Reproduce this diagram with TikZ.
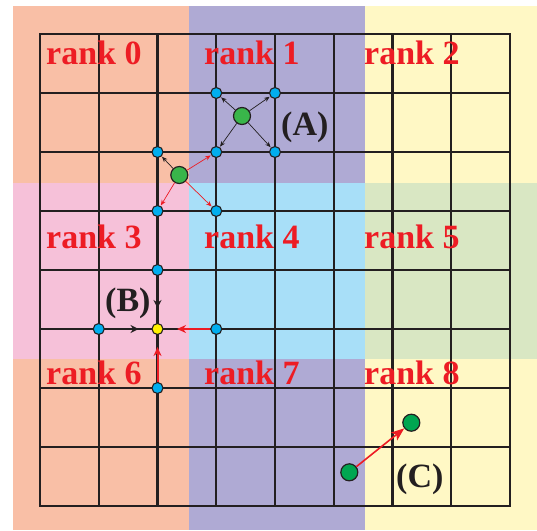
\documentclass[tikz,border=0pt]{standalone}
\usepackage{fontspec}
\setmainfont{Liberation Serif}
\usetikzlibrary{arrows.meta}
\definecolor{csalmon}{HTML}{F9BFA6}
\definecolor{clav}{HTML}{AFAAD4}
\definecolor{cyel}{HTML}{FFF8C5}
\definecolor{cpink}{HTML}{F6C1D9}
\definecolor{clblue}{HTML}{A8DFF8}
\definecolor{clgreen}{HTML}{D9E7C3}
\definecolor{cred}{HTML}{ED1C24}
\definecolor{cblk}{HTML}{231F20}
\definecolor{cdot}{HTML}{00AEEF}
\definecolor{cgreen}{HTML}{39B54A}
\definecolor{cgreenC}{HTML}{00A651}
\definecolor{cyellow}{HTML}{FFF200}
\tikzset{
  gridline/.style={draw=cblk, line width=2.4pt},
  bdot/.style={circle, draw=cblk, line width=1.1pt, fill=cdot, minimum size=11pt, inner sep=0pt},
  ydot/.style={circle, draw=cblk, line width=1.1pt, fill=cyellow, minimum size=11pt, inner sep=0pt},
  gdot/.style={circle, draw=cblk, line width=1.2pt, fill=cgreen, minimum size=17pt, inner sep=0pt},
  gdotC/.style={circle, draw=cblk, line width=1.2pt, fill=cgreenC, minimum size=17pt, inner sep=0pt},
  ranklbl/.style={text=cred, font=\fontsize{34}{36}\selectfont\bfseries, inner sep=0pt, anchor=base west},
  caselbl/.style={text=cblk, font=\fontsize{34}{36}\selectfont\bfseries, inner sep=0pt, anchor=base west},
  arrA/.style={draw=cblk, line width=0.7pt, -{Stealth[length=5.5pt,width=4.5pt]}, shorten >=0.5pt},
  arrAr/.style={draw=cred, line width=0.7pt, -{Stealth[length=5.5pt,width=4.5pt]}, shorten >=0.5pt},
  arrBk/.style={draw=cblk, line width=2.4pt, -{Stealth[length=8pt,width=8pt]}},
  arrBr/.style={draw=cred, line width=2pt, -{Stealth[length=9pt,width=8pt]}},
  arrC/.style={draw=cred, line width=1.6pt, -{Stealth[length=13pt,width=10pt,inset=3pt]}},
}
\begin{document}
\begin{tikzpicture}[x=1pt,y=-1pt]
\useasboundingbox (0,0) rectangle (537,530);
\fill[white] (0,0) rectangle (537,530);
% rank regions
\fill[csalmon] (13,6) rectangle (189,183);
\fill[clav] (189,6) rectangle (365,183);
\fill[cyel] (365,6) rectangle (537,183);
\fill[cpink] (13,183) rectangle (189,359);
\fill[clblue] (189,183) rectangle (365,359);
\fill[clgreen] (365,183) rectangle (537,359);
\fill[csalmon] (13,359) rectangle (189,530);
\fill[clav] (189,359) rectangle (365,530);
\fill[cyel] (365,359) rectangle (537,530);
% grid
\foreach \i in {1,...,7} {
  \draw[gridline] ({40+\i*58.75},34) -- ({40+\i*58.75},506);
  \draw[gridline] (40,{34+\i*59}) -- (510,{34+\i*59});
}
\draw[gridline] (40,34) rectangle (510,506);
% dots
\node[bdot] (d31) at (216.25,93) {};
\node[bdot] (d41) at (275,93) {};
\node[bdot] (d22) at (157.5,152) {};
\node[bdot] (d32) at (216.25,152) {};
\node[bdot] (d42) at (275,152) {};
\node[bdot] (d23) at (157.5,211) {};
\node[bdot] (d33) at (216.25,211) {};
\node[bdot] (d24) at (157.5,270) {};
\node[bdot] (d15) at (98.75,329) {};
\node[bdot] (d35) at (216.25,329) {};
\node[bdot] (d26) at (157.5,388) {};
\node[ydot] (y25) at (157.5,329) {};
\node[gdot] (gA) at (242,116) {};
\node[gdot] (gB) at (179.3,175) {};
\node[gdotC] (gC1) at (349.3,472.3) {};
\node[gdotC] (gC2) at (411.3,422.7) {};
% (A) arrows
\draw[arrA] (gA) -- (d31);
\draw[arrA] (gA) -- (d41);
\draw[arrA] (gA) -- (d32);
\draw[arrA] (gA) -- (d42);
\draw[arrA] (gB) -- (d22);
\draw[arrAr] (gB) -- (d32);
\draw[arrAr] (gB) -- (d23);
\draw[arrAr] (gB) -- (d33);
% (B) arrows
\coordinate (tB1) at (157.5,308);
\coordinate (tB2) at (138.5,329);
\coordinate (tB3) at (177,329);
\coordinate (tB4) at (157.5,347);
\draw[arrBk] (d24) -- (tB1);
\draw[arrBk] (d15) -- (tB2);
\draw[arrBr] (d35) -- (tB3);
\draw[arrBr] (d26) -- (tB4);
% (C) arrow
\draw[arrC] (gC1) -- (gC2);
% labels
\node[ranklbl] (r0) at (46,64) {rank 0};
\node[ranklbl] (r1) at (204,64) {rank 1};
\node[ranklbl] (r2) at (364,64) {rank 2};
\node[ranklbl] (r3) at (46,248) {rank 3};
\node[ranklbl] (r4) at (204,248) {rank 4};
\node[ranklbl] (r5) at (364,248) {rank 5};
\node[ranklbl] (r6) at (46,384) {rank 6};
\node[ranklbl] (r7) at (204,384) {rank 7};
\node[ranklbl] (r8) at (364,384) {rank 8};
\node[caselbl] (lA) at (281,135) {(A)};
\node[caselbl] (lB) at (105,311) {(B)};
\node[caselbl] (lC) at (396,487) {(C)};
\end{tikzpicture}
\end{document}
